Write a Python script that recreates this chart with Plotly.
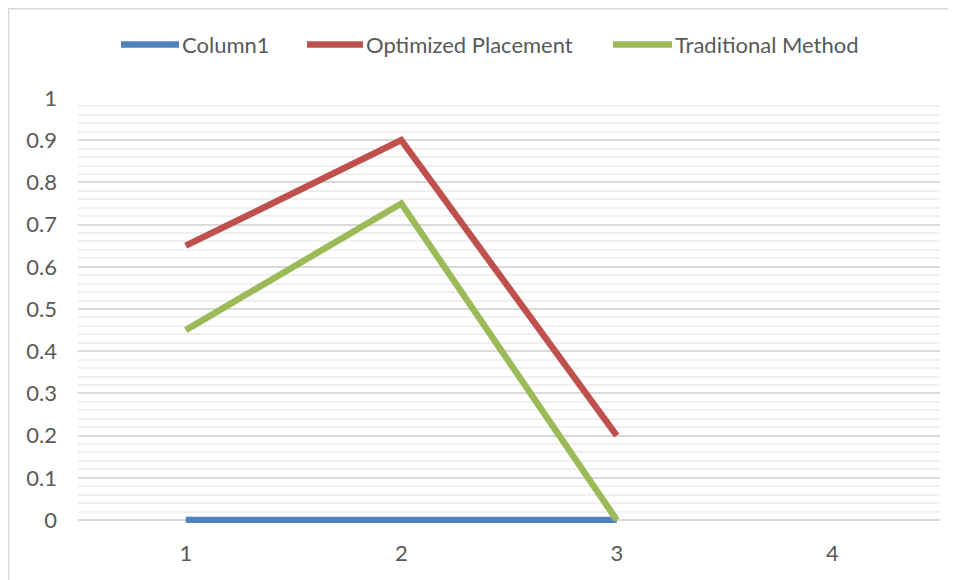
import plotly.graph_objects as go

x_vals = [1, 2, 3]
column1 = [0, 0, 0]
optimized = [0.65, 0.9, 0.2]
traditional = [0.45, 0.75, 0]
series_names = ['Column1', 'Optimized Placement', 'Traditional Method']
series_colors = ['#4F81BD', '#C0504D', '#9BBB59']
x_ticks = [1, 2, 3, 4]
y_ticks = [0, 0.1, 0.2, 0.3, 0.4, 0.5, 0.6, 0.7, 0.8, 0.9, 1]

font_family = "Lato, 'Open Sans', sans-serif"

fig = go.Figure()
for name, ys, color in zip(series_names, [column1, optimized, traditional], series_colors):
    fig.add_trace(go.Scatter(x=x_vals, y=ys, name=name, mode='lines',
                             line=dict(color=color, width=6.5)))

# Excel-style legend: long line swatch with the label right after it
legend_x = [(0.0499, 0.1172), (0.2657, 0.3306), (0.6206, 0.6891)]
legend_y = 1.1256
shapes = [dict(
    type='rect', xref='paper', yref='paper',
    x0=-0.0805, x1=1.05, y0=-0.2, y1=1.21,
    line=dict(color='#D9D9D9', width=1.5),
    fillcolor='rgba(0,0,0,0)',
    layer='below',
)]
annotations = []
for (x0, x1), name, color in zip(legend_x, series_names, series_colors):
    shapes.append(dict(type='line', xref='paper', yref='paper',
                       x0=x0, x1=x1, y0=legend_y, y1=legend_y,
                       line=dict(color=color, width=6.5)))
    annotations.append(dict(text=name, xref='paper', yref='paper',
                            x=x1 + 0.001, y=legend_y, xanchor='left', yanchor='middle',
                            showarrow=False,
                            font=dict(size=22, color='#595959')))

fig.update_layout(
    width=956,
    height=580,
    # page body has an 8px offset, so margins are trimmed to match
    margin=dict(l=70, r=24, t=90, b=65),
    plot_bgcolor='white',
    paper_bgcolor='white',
    font=dict(family=font_family, size=22, color='#595959'),
    showlegend=False,
    xaxis=dict(
        range=[0.5, 4.5],
        tickvals=x_ticks,
        ticktext=[str(v) for v in x_ticks],
        showgrid=False,
        zeroline=False,
        showline=False,
        ticks='',
        ticklabelstandoff=15,
    ),
    yaxis=dict(
        range=[-0.0071, 1],
        tickvals=y_ticks,
        ticktext=[f'{v:g}' for v in y_ticks],
        showgrid=True,
        gridcolor='#D9D9D9',
        gridwidth=1.5,
        zeroline=False,
        showline=False,
        ticks='',
        ticklabelstandoff=20,
        minor=dict(tick0=0, dtick=0.02, showgrid=True, gridcolor='#F0F0F0', gridwidth=1.5),
    ),
    shapes=shapes,
    annotations=annotations,
)

fig.write_html("out.html")
